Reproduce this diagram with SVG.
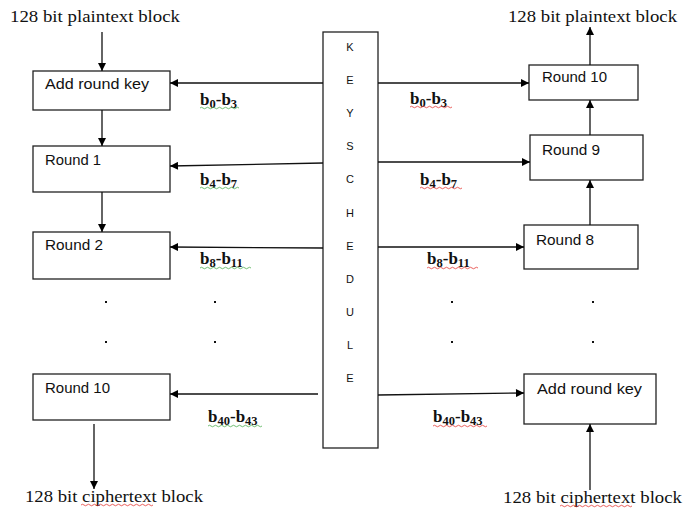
<svg xmlns="http://www.w3.org/2000/svg" width="683" height="508" viewBox="0 0 683 508">
<defs>
<marker id="ah" viewBox="0 0 10 10" refX="10" refY="5" markerWidth="9" markerHeight="8" markerUnits="userSpaceOnUse" orient="auto">
<path d="M0,0 L10,5 L0,10 z" fill="#000"/>
</marker>
<style>
.box{fill:#fff;stroke:#222;stroke-width:1.3}
.ln{stroke:#111;stroke-width:1.3;fill:none;marker-end:url(#ah)}
.bt{font-family:"Liberation Sans",Arial,sans-serif;font-size:14.5px;fill:#111}
.ks{font-family:"Liberation Sans",Arial,sans-serif;font-size:11px;fill:#111;text-anchor:middle}
.st{font-family:"Liberation Serif","Times New Roman",serif;font-size:17px;fill:#111}
.lb{font-family:"Liberation Serif","Times New Roman",serif;font-size:17px;font-weight:bold;fill:#111}
.sub{font-size:12.5px}
.dot{fill:#111}
.wg{stroke:#4caf50;stroke-width:0.8;fill:none}
.wr{stroke:#e53935;stroke-width:0.8;fill:none}
</style>
</defs>
<rect width="683" height="508" fill="#fff"/>

<g id="key-schedule">
<rect x="323" y="32" width="55" height="416" class="box"/>
<text class="ks" x="350" y="51">K</text>
<text class="ks" x="350" y="84">E</text>
<text class="ks" x="350" y="117">Y</text>
<text class="ks" x="350" y="150">S</text>
<text class="ks" x="350" y="183">C</text>
<text class="ks" x="350" y="217">H</text>
<text class="ks" x="350" y="250">E</text>
<text class="ks" x="350" y="283">D</text>
<text class="ks" x="350" y="316">U</text>
<text class="ks" x="350" y="349">L</text>
<text class="ks" x="350" y="382">E</text>
</g>

<g id="l-addroundkey"><rect x="33" y="71" width="137" height="39" class="box"/><text class="bt" x="45" y="89" textLength="104" lengthAdjust="spacingAndGlyphs">Add round key</text></g>
<g id="l-round1"><rect x="33" y="146" width="137" height="46" class="box"/><text class="bt" x="45" y="165" textLength="56" lengthAdjust="spacingAndGlyphs">Round 1</text></g>
<g id="l-round2"><rect x="33" y="232" width="137" height="47" class="box"/><text class="bt" x="45" y="250" textLength="58" lengthAdjust="spacingAndGlyphs">Round 2</text></g>
<g id="l-round10"><rect x="33" y="374" width="137" height="46" class="box"/><text class="bt" x="45" y="393" textLength="65" lengthAdjust="spacingAndGlyphs">Round 10</text></g>

<g id="r-round10"><rect x="529" y="65" width="109" height="35" class="box"/><text class="bt" x="542" y="82" textLength="65" lengthAdjust="spacingAndGlyphs">Round 10</text></g>
<g id="r-round9"><rect x="530" y="135" width="113" height="45" class="box"/><text class="bt" x="542" y="155" textLength="58" lengthAdjust="spacingAndGlyphs">Round 9</text></g>
<g id="r-round8"><rect x="524" y="225" width="114" height="44" class="box"/><text class="bt" x="536" y="245" textLength="58" lengthAdjust="spacingAndGlyphs">Round 8</text></g>
<g id="r-addroundkey"><rect x="524" y="374" width="132" height="50" class="box"/><text class="bt" x="537" y="394" textLength="105" lengthAdjust="spacingAndGlyphs">Add round key</text></g>

<g id="texts">
<text class="st" x="10" y="22" textLength="170" lengthAdjust="spacingAndGlyphs">128 bit plaintext block</text>
<text class="st" x="508" y="22" textLength="169" lengthAdjust="spacingAndGlyphs">128 bit plaintext block</text>
<text class="st" x="25" y="502" textLength="178" lengthAdjust="spacingAndGlyphs">128 bit ciphertext block</text>
<text class="st" x="503" y="503" textLength="179" lengthAdjust="spacingAndGlyphs">128 bit ciphertext block</text>
<text class="lb" x="200" y="105">b<tspan class="sub" dy="2.5">0</tspan><tspan dy="-2.5">-b</tspan><tspan class="sub" dy="2.5">3</tspan></text>
<text class="lb" x="410" y="104">b<tspan class="sub" dy="2.5">0</tspan><tspan dy="-2.5">-b</tspan><tspan class="sub" dy="2.5">3</tspan></text>
<text class="lb" x="200" y="185">b<tspan class="sub" dy="2.5">4</tspan><tspan dy="-2.5">-b</tspan><tspan class="sub" dy="2.5">7</tspan></text>
<text class="lb" x="420" y="185">b<tspan class="sub" dy="2.5">4</tspan><tspan dy="-2.5">-b</tspan><tspan class="sub" dy="2.5">7</tspan></text>
<text class="lb" x="200" y="264">b<tspan class="sub" dy="2.5">8</tspan><tspan dy="-2.5">-b</tspan><tspan class="sub" dy="2.5">11</tspan></text>
<text class="lb" x="427" y="264">b<tspan class="sub" dy="2.5">8</tspan><tspan dy="-2.5">-b</tspan><tspan class="sub" dy="2.5">11</tspan></text>
<text class="lb" x="208" y="422">b<tspan class="sub" dy="2.5">40</tspan><tspan dy="-2.5">-b</tspan><tspan class="sub" dy="2.5">43</tspan></text>
<text class="lb" x="433" y="422">b<tspan class="sub" dy="2.5">40</tspan><tspan dy="-2.5">-b</tspan><tspan class="sub" dy="2.5">43</tspan></text>
</g>

<g id="underlines">
<path class="wg" d="M200,108 q1.5,-1.5 3,0 t3,0 t3,0 t3,0 t3,0 t3,0 t3,0 t3,0 t3,0 t3,0 t3,0 t3,0 t3,0"/>
<path class="wr" d="M410,107 q1.5,-1.5 3,0 t3,0 t3,0 t3,0 t3,0 t3,0 t3,0 t3,0 t3,0 t3,0 t3,0 t3,0 t3,0 t3,0"/>
<path class="wg" d="M200,188 q1.5,-1.5 3,0 t3,0 t3,0 t3,0 t3,0 t3,0 t3,0 t3,0 t3,0 t3,0 t3,0 t3,0 t3,0"/>
<path class="wr" d="M420,188 q1.5,-1.5 3,0 t3,0 t3,0 t3,0 t3,0 t3,0 t3,0 t3,0 t3,0 t3,0 t3,0 t3,0 t3,0 t3,0"/>
<path class="wg" d="M200,268 q1.5,-1.5 3,0 t3,0 t3,0 t3,0 t3,0 t3,0 t3,0 t3,0 t3,0 t3,0 t3,0 t3,0 t3,0 t3,0 t3,0 t3,0 t3,0"/>
<path class="wr" d="M427,268 q1.5,-1.5 3,0 t3,0 t3,0 t3,0 t3,0 t3,0 t3,0 t3,0 t3,0 t3,0 t3,0 t3,0 t3,0 t3,0 t3,0 t3,0 t3,0"/>
<path class="wg" d="M208,426 q1.5,-1.5 3,0 t3,0 t3,0 t3,0 t3,0 t3,0 t3,0 t3,0 t3,0 t3,0 t3,0 t3,0 t3,0 t3,0 t3,0 t3,0 t3,0 t3,0"/>
<path class="wr" d="M433,426 q1.5,-1.5 3,0 t3,0 t3,0 t3,0 t3,0 t3,0 t3,0 t3,0 t3,0 t3,0 t3,0 t3,0 t3,0 t3,0 t3,0 t3,0 t3,0 t3,0"/>
<path class="wr" d="M81,505 q1.5,-1.5 3,0 t3,0 t3,0 t3,0 t3,0 t3,0 t3,0 t3,0 t3,0 t3,0 t3,0 t3,0 t3,0 t3,0 t3,0 t3,0 t3,0 t3,0 t3,0 t3,0 t3,0 t3,0 t3,0 t3,0"/>
<path class="wr" d="M560,506 q1.5,-1.5 3,0 t3,0 t3,0 t3,0 t3,0 t3,0 t3,0 t3,0 t3,0 t3,0 t3,0 t3,0 t3,0 t3,0 t3,0 t3,0 t3,0 t3,0 t3,0 t3,0 t3,0 t3,0 t3,0 t3,0"/>
</g>

<g id="dots">
<rect class="dot" x="105" y="301" width="2" height="2"/>
<rect class="dot" x="105" y="341" width="2" height="2"/>
<rect class="dot" x="214" y="301" width="2" height="2"/>
<rect class="dot" x="214" y="341" width="2" height="2"/>
<rect class="dot" x="451" y="301" width="2" height="2"/>
<rect class="dot" x="451" y="341" width="2" height="2"/>
<rect class="dot" x="592" y="301" width="2" height="2"/>
<rect class="dot" x="592" y="341" width="2" height="2"/>
</g>

<g id="connectors">
<line class="ln" x1="102" y1="32" x2="102" y2="71"/>
<line class="ln" x1="102" y1="110" x2="102" y2="146"/>
<line class="ln" x1="102" y1="192" x2="102" y2="232"/>
<line class="ln" x1="94" y1="424" x2="94" y2="489"/>
<line class="ln" x1="323" y1="83" x2="170" y2="83"/>
<line class="ln" x1="323" y1="163" x2="170" y2="166"/>
<line class="ln" x1="323" y1="248" x2="170" y2="247"/>
<line class="ln" x1="318" y1="394" x2="170" y2="394"/>
<line class="ln" x1="378" y1="83" x2="529" y2="83"/>
<line class="ln" x1="378" y1="162" x2="530" y2="162"/>
<line class="ln" x1="378" y1="247" x2="524" y2="247"/>
<line class="ln" x1="378" y1="395" x2="524" y2="393"/>
<line class="ln" x1="590" y1="65" x2="590" y2="27"/>
<line class="ln" x1="590" y1="135" x2="590" y2="100"/>
<line class="ln" x1="590" y1="225" x2="590" y2="180"/>
<line class="ln" x1="590" y1="490" x2="590" y2="424"/>
</g>
</svg>
